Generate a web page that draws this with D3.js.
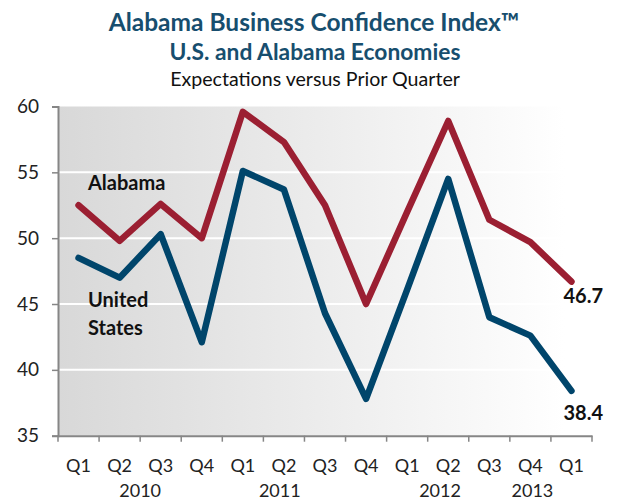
<!DOCTYPE html>
<html><head><meta charset="utf-8">
<script src="https://cdn.jsdelivr.net/npm/d3@7"></script>
<style>body{margin:0;background:#fff}</style>
</head><body><svg id="c" width="618" height="500"></svg>
<script>
const quarters = ["Q1","Q2","Q3","Q4","Q1","Q2","Q3","Q4","Q1","Q2","Q3","Q4","Q1"];
const years = ["2010", "2011", "2012", "2013"];
const yearCenters = [1.5, 4.9, 8.8, 11.05];
const alabama = [52.5, 49.8, 52.6, 50.0, 59.6, 57.3, 52.5, 45.0, 52.0, 58.9, 51.4, 49.7, 46.7];
const unitedStates = [48.5, 47.0, 50.3, 42.1, 55.1, 53.7, 44.3, 37.8, 46.1, 54.5, 44.0, 42.6, 38.4];
const yTicks = [35, 40, 45, 50, 55, 60];

const svg = d3.select("#c");
const font = "Lato, 'Open Sans', sans-serif";
const L = 58, R = 592, T = 106.5, B = 435.7;
const idx = d3.range(quarters.length);
const x = d3.scaleBand().domain(idx).range([L, R]);
const xc = d3.scaleLinear().domain([0, quarters.length - 1]).range([L + x.step() / 2, R - x.step() / 2]);
const y = d3.scaleLinear().domain([35, 60]).range([B, T]);

const defs = svg.append("defs");
const g = defs.append("linearGradient").attr("id","bg").attr("x1","0").attr("x2","1").attr("y1","0").attr("y2","0");
g.append("stop").attr("offset","0").attr("stop-color","#d8d8d8");
g.append("stop").attr("offset","1").attr("stop-color","#ffffff");
svg.append("rect").attr("x", L).attr("y", T).attr("width", 507).attr("height", B - T).attr("fill","url(#bg)");

// grid
svg.append("g").selectAll("line").data(yTicks.filter(d => d > 35 && d < 60)).join("line")
  .attr("x1", L).attr("x2", L + 507).attr("y1", d => y(d)).attr("y2", d => y(d))
  .attr("stroke", "#fff").attr("stroke-width", 2);

// y axis
const ya = svg.append("g").attr("transform", `translate(${L},0)`)
  .call(d3.axisLeft(y).tickValues(yTicks).tickSize(6).tickPadding(13));
ya.select(".domain").attr("stroke", "#868686").attr("stroke-width", 2);
ya.selectAll(".tick line").attr("stroke", "#868686").attr("stroke-width", 1.5);
ya.selectAll("text").attr("font-family", font).attr("font-size", 19).attr("fill", "#222");

// x axis
const xa = svg.append("g").attr("transform", `translate(0,${B})`)
  .call(d3.axisBottom(x).tickFormat(() => "").tickSize(0));
xa.select(".domain").attr("stroke", "#868686").attr("stroke-width", 2);
xa.selectAll(".tick").remove();
const edges = d3.range(quarters.length + 1).map(i => L + i * x.step());
svg.append("g").selectAll("line").data(edges).join("line")
  .attr("x1", d => d).attr("x2", d => d).attr("y1", B).attr("y2", B + 6)
  .attr("stroke", "#868686").attr("stroke-width", 1.5);
svg.append("g").selectAll("text").data(idx).join("text")
  .attr("x", i => xc(i)).attr("y", 472)
  .attr("text-anchor", "middle").attr("font-family", font).attr("font-size", 18).attr("fill", "#222")
  .text(i => quarters[i]);
svg.append("g").selectAll("text").data(years).join("text")
  .attr("x", (d, i) => xc(yearCenters[i])).attr("y", 497)
  .attr("text-anchor", "middle").attr("font-family", font).attr("font-size", 18).attr("fill", "#222")
  .text(d => d);

// lines
const line = d3.line().x((d, i) => xc(i)).y(d => y(d));
[[alabama, "#9b1f32"], [unitedStates, "#00456b"]].forEach(([data, col]) => {
  svg.append("path").datum(data).attr("d", line).attr("fill", "none")
    .attr("stroke", col).attr("stroke-width", 6.5).attr("stroke-linejoin", "round").attr("stroke-linecap", "round");
});

// labels
const lab = (t, xx, yy) => svg.append("text").attr("x", xx).attr("y", yy)
  .attr("font-family", font).attr("font-weight", "bold").attr("font-size", 20).attr("fill", "#111")
  .text(t);
lab("Alabama", 88, 190);
lab("United", 88, 307);
lab("States", 88, 335);
const last = quarters.length - 1;
lab(alabama[last].toFixed(1), xc(last) - 8, 303);
lab(unitedStates[last].toFixed(1), xc(last) - 8, 420);

// titles
svg.append("text").attr("x", 314).attr("y", 31).attr("text-anchor", "middle")
  .attr("font-family", font).attr("font-weight", "bold").attr("font-size", 24.5).attr("fill", "#174e6e")
  .text("Alabama Business Confidence Index™");
svg.append("text").attr("x", 315).attr("y", 60).attr("text-anchor", "middle")
  .attr("font-family", font).attr("font-weight", "bold").attr("font-size", 22.8).attr("fill", "#174e6e")
  .text("U.S. and Alabama Economies");
svg.append("text").attr("x", 315).attr("y", 86).attr("text-anchor", "middle")
  .attr("font-family", font).attr("font-size", 19.6).attr("fill", "#111")
  .text("Expectations versus Prior Quarter");
</script></body></html>
